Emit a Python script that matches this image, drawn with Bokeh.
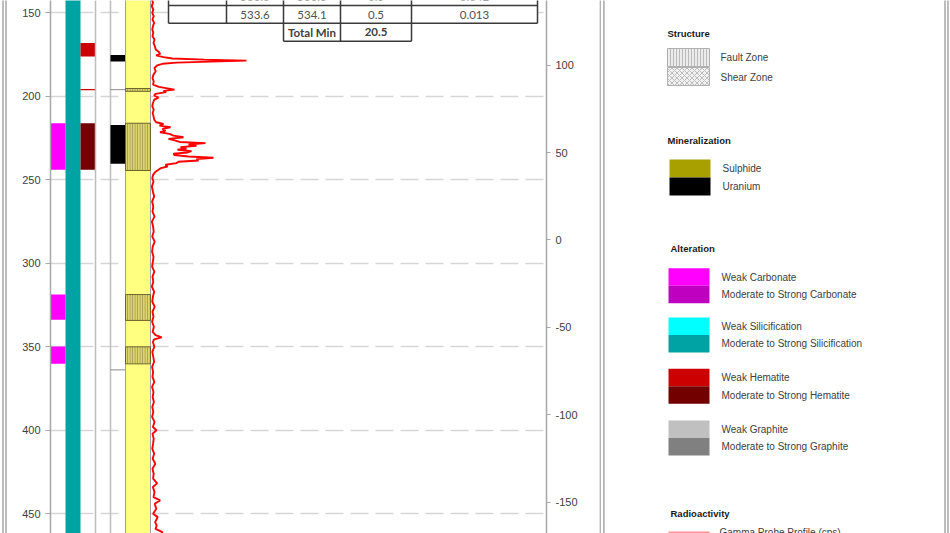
from bokeh.plotting import figure
from bokeh.layouts import row
from bokeh.models import Range1d, LinearAxis, FixedTicker, PrintfTickFormatter
from bokeh.core.properties import value
from bokeh.embed import file_html
from bokeh.resources import INLINE

# ------------------------------------------------------------------ data
DEPTH_TICKS = [150, 200, 250, 300, 350, 400, 450]
ELEV_TICKS = [100, 50, 0, -50, -100, -150]
DEPTH_VIEW = (142.6, 461.8)      # visible along-hole depth window (m)
ELEV_VIEW = (136.9, -167.8)      # matching elevation window (m)

HOLE_FROM = 100.0
HOLE_TO = 500.0

CARB_FROM = [216.1, 318.7, 349.8]
CARB_TO = [244.0, 333.8, 360.2]
CARB_CLASS = ["weak", "weak", "weak"]

SILIC_FROM = [HOLE_FROM]
SILIC_TO = [HOLE_TO]
SILIC_CLASS = ["strong"]

HEM_FROM = [168.0, 195.6, 216.1]
HEM_TO = [176.2, 196.4, 244.0]
HEM_CLASS = ["weak", "weak", "strong"]

URAN_FROM = [175.2, 217.1]
URAN_TO = [179.2, 240.4]

CONTACTS = [196.0, 363.8]

FAULT_FROM = [195.3, 216.1, 318.7, 350.0]
FAULT_TO = [197.0, 244.4, 334.2, 360.2]

GAMMA_DEPTH = [
    142, 144, 146, 148, 150, 152, 154, 156, 158, 160,
    162, 164, 166, 168, 170, 172, 173.5, 174.5, 175.5, 176.5,
    177.3, 178, 178.6, 179.2, 179.8, 180.5, 181.5, 183, 185, 187,
    189, 191, 193, 194.3, 195.2, 196, 196.7, 197.5, 198.5, 199.5,
    200.8, 202, 204, 206, 208, 210, 212, 214, 215.5, 216.5,
    217.5, 218.5, 219.5, 220.5, 221.5, 222.5, 223.5, 224.5, 225.5, 226.5,
    227.3, 228, 228.8, 229.6, 230.4, 231.2, 232, 232.8, 233.6, 234.4,
    235.2, 236, 236.8, 237.6, 238.4, 239.2, 240, 241, 242, 243,
    244, 245.5, 247, 249, 251, 254, 257, 260, 263, 266,
    269, 272, 275, 278, 281, 284, 287, 290, 293, 296,
    299, 302, 305, 308, 311, 314, 317, 320, 323, 326,
    329, 332, 335, 338, 341, 343, 344.3, 345.5, 347, 350,
    353, 356, 359, 362, 365, 368, 371, 374, 377, 380,
    383, 386, 389, 392, 395, 398, 400, 402, 405, 408,
    411, 414, 417, 420, 423, 426, 429, 431.8, 434, 437,
    440, 442, 444, 447, 450, 452, 455, 457, 459, 461,
    463,
]
GAMMA_CPS = [
    80, 120, 60, 140, 90, 160, 100, 180, 120, 90,
    140, 100, 200, 150, 220, 260, 420, 480, 280, 650,
    1100, 2700, 4800, 3000, 1300, 600, 330, 200, 260, 150,
    100, 160, 130, 420, 850, 1200, 650, 780, 250, 180,
    400, 190, 120, 90, 160, 110, 150, 190, 280, 650,
    450, 1000, 600, 750, 480, 950, 1150, 1650, 900, 1250,
    1450, 2750, 1900, 2300, 1500, 1800, 1350, 2050, 1850, 1150,
    1200, 1900, 3150, 2300, 2400, 1400, 1300, 750, 850, 520,
    400, 220, 130, 90, 150, 70, 120, 180, 80, 140,
    100, 200, 70, 130, 160, 90, 210, 110, 80, 150,
    120, 80, 190, 100, 140, 70, 180, 120, 90, 210,
    100, 150, 80, 170, 110, 250, 560, 180, 120, 190,
    90, 140, 180, 80, 130, 100, 190, 80, 150, 110,
    170, 90, 140, 80, 200, 120, 300, 100, 160, 130,
    90, 180, 110, 240, 100, 160, 130, 330, 120, 200,
    150, 480, 210, 290, 130, 360, 230, 310, 250, 600,
    420,
]

TABLE_PREV = ["", "533.0", "533.3", "0.3", "0.042"]
TABLE_ROW = ["", "533.6", "534.1", "0.5", "0.013"]
TOTAL_LABEL = "Total Min"
TOTAL_VALUE = "20.5"

STRUCT_LABELS = ["Fault Zone", "Shear Zone"]
MINERAL_LABELS = ["Sulphide", "Uranium"]
ALTER_LABELS = [
    "Weak Carbonate", "Moderate to Strong Carbonate",
    "Weak Silicification", "Moderate to Strong Silicification",
    "Weak Hematite", "Moderate to Strong Hematite",
    "Weak Graphite", "Moderate to Strong Graphite",
]
HEADERS = ["Structure", "Mineralization", "Alteration", "Radioactivity"]
GAMMA_LABEL = "Gamma Probe Profile (cps)"

# ------------------------------------------------------------------ styles
FONT = value("Liberation Sans")
TFONT = value("Lato")
ALT_COLORS = {
    "Carbonate": ("#FF00FF", "#C000C0"),
    "Silicification": ("#00FFFF", "#00A3A3"),
    "Hematite": ("#CC0000", "#720000"),
    "Graphite": ("#C0C0C0", "#808080"),
}
SULPHIDE = "#A8A000"
URANIUM = "#000000"
LITHO = "#FFFF80"
FRAME_GRAY = "#9A9A9A"


def alt_color(kind, cls):
    return ALT_COLORS[kind][0 if cls == "weak" else 1]


def bare(fig):
    for g in fig.grid:
        g.visible = False
    return fig


TRACK_PX = 15.0
FRAME_W = 496
TRACK_LEFT = [0, 1, 2, 3, 4, 5]
TRACK_RIGHT = [1, 2, 3, 4, 5, 5 + 25 / 15.0]

# ------------------------------------------------------------------ left edge strip
s = bare(figure(width=8, height=533, x_range=Range1d(0, 8), y_range=Range1d(533, 0),
                x_axis_location=None, y_axis_location=None,
                output_backend="svg", toolbar_location=None,
                min_border_left=0, min_border_right=0, min_border_top=0, min_border_bottom=0,
                outline_line_color=None,
                background_fill_color="white", border_fill_color="white"))
s.segment(x0=[2.5, 5.5], y0=[-10, -10], x1=[2.5, 5.5], y1=[545, 545],
          line_color=FRAME_GRAY, line_width=1.3)

# ------------------------------------------------------------------ log figure
p = figure(width=591, height=533,
           x_range=Range1d(0, FRAME_W / TRACK_PX),
           y_range=Range1d(DEPTH_VIEW[1], DEPTH_VIEW[0]),
           x_axis_location=None, y_axis_location="left",
           output_backend="svg", toolbar_location=None,
           min_border_left=42, min_border_right=53,
           min_border_top=0, min_border_bottom=0,
           outline_line_color=None,
           background_fill_color="white", border_fill_color="white")
p.extra_y_ranges = {"elev": Range1d(ELEV_VIEW[1], ELEV_VIEW[0]),
                    "px": Range1d(533, 0)}
p.extra_x_ranges = {"cps": Range1d(-100 * 50, 396 * 50),
                    "px": Range1d(50, 546)}

for g in p.xgrid:
    g.visible = False
yg = p.ygrid[0]
yg.ticker = FixedTicker(ticks=DEPTH_TICKS)
yg.grid_line_color = "#D6D6D6"
yg.grid_line_dash = "18 7"
yg.grid_line_width = 1.5


def style_axis(ax, ticks):
    ax.ticker = FixedTicker(ticks=ticks)
    ax.formatter = PrintfTickFormatter(format="%d")
    ax.axis_line_color = "#A8A8A8"
    ax.axis_line_width = 1.5
    ax.major_tick_line_color = "#A8A8A8"
    ax.major_tick_out = 5
    ax.major_tick_in = 0
    ax.minor_tick_line_color = None
    ax.major_label_standoff = 5
    ax.major_label_text_font = "Liberation Sans"
    ax.major_label_text_font_size = "11px"
    ax.major_label_text_color = "#404040"


style_axis(p.yaxis[0], DEPTH_TICKS)
rax = LinearAxis(y_range_name="elev")
style_axis(rax, ELEV_TICKS)
rax.major_tick_out = 4
p.add_layout(rax, "right")

# silicification (track 1)
p.quad(left=TRACK_LEFT[1], right=TRACK_RIGHT[1], top=SILIC_FROM, bottom=SILIC_TO,
       fill_color=[alt_color("Silicification", c) for c in SILIC_CLASS], line_color=None)
# carbonate (track 0)
p.quad(left=TRACK_LEFT[0], right=TRACK_RIGHT[0], top=CARB_FROM, bottom=CARB_TO,
       fill_color=[alt_color("Carbonate", c) for c in CARB_CLASS], line_color=None)
# hematite (track 2)
p.quad(left=TRACK_LEFT[2], right=TRACK_RIGHT[2], top=HEM_FROM, bottom=HEM_TO,
       fill_color=[alt_color("Hematite", c) for c in HEM_CLASS], line_color=None)
# graphite track borders
p.segment(x0=[TRACK_LEFT[3], TRACK_RIGHT[3]], y0=[HOLE_FROM] * 2,
          x1=[TRACK_LEFT[3], TRACK_RIGHT[3]], y1=[HOLE_TO] * 2,
          line_color="#BDBDBD", line_width=1.5)
# mineralization (track 4)
p.quad(left=TRACK_LEFT[4], right=TRACK_RIGHT[4], top=URAN_FROM, bottom=URAN_TO,
       fill_color=URANIUM, line_color=None)
p.segment(x0=TRACK_LEFT[4], y0=CONTACTS, x1=TRACK_RIGHT[4], y1=CONTACTS,
          line_color="#8A8A8A", line_width=1)
# lithology / structure (track 5)
p.quad(left=TRACK_LEFT[5], right=TRACK_RIGHT[5], top=[HOLE_FROM], bottom=[HOLE_TO],
       fill_color=LITHO, line_color="#A0A0A0", line_width=1)
p.quad(left=TRACK_LEFT[5], right=TRACK_RIGHT[5], top=FAULT_FROM, bottom=FAULT_TO,
       fill_color="#DDD470", hatch_pattern="|", hatch_color="#7A7340",
       hatch_scale=2.5, hatch_weight=0.6,
       line_color="#6B6530", line_width=1)

# gamma probe profile
p.line(x=GAMMA_CPS, y=GAMMA_DEPTH, x_range_name="cps",
       line_color="#FF0000", line_width=1.9)

# summary table overlay (drawn in the overlay 'px' ranges)
TBL_X = [168, 226, 283, 340, 411, 537]
ROW_Y = [5, 22.7, 40.7]
TLINE = dict(x_range_name="px", y_range_name="px", line_color="#3A3A3A", line_width=1.5)
p.quad(left=[TBL_X[0]], right=[TBL_X[-1]], top=[-5], bottom=[42],
       x_range_name="px", y_range_name="px", fill_color="white", line_color=None)
p.segment(x0=TBL_X, y0=-5, x1=TBL_X, y1=ROW_Y[1], **TLINE)
p.segment(x0=TBL_X[0], y0=ROW_Y[:2], x1=TBL_X[-1], y1=ROW_Y[:2], **TLINE)
p.segment(x0=TBL_X[2:5], y0=ROW_Y[1], x1=TBL_X[2:5], y1=ROW_Y[2], **TLINE)
p.segment(x0=[TBL_X[2]], y0=[ROW_Y[2]], x1=[TBL_X[4]], y1=[ROW_Y[2]], **TLINE)
cx = [(a + b) / 2 for a, b in zip(TBL_X[:-1], TBL_X[1:])]
p.text(x=cx, y=[-3.5] * 5, text=TABLE_PREV,
       x_range_name="px", y_range_name="px", text_font=TFONT, text_font_size="11.5px",
       text_color="#505050", text_align="center", text_baseline="middle")
p.text(x=cx, y=[(ROW_Y[0] + ROW_Y[1]) / 2 + 0.5] * 5, text=TABLE_ROW,
       x_range_name="px", y_range_name="px", text_font=TFONT, text_font_size="11.5px",
       text_color="#505050", text_align="center", text_baseline="middle")
p.text(x=cx[2:4], y=[(ROW_Y[1] + ROW_Y[2]) / 2] * 2, text=[TOTAL_LABEL, TOTAL_VALUE],
       x_range_name="px", y_range_name="px", text_font=TFONT, text_font_size="11.5px",
       text_font_style="bold", text_color="#404040",
       text_align="center", text_baseline="middle")

# ------------------------------------------------------------------ legend panel
q = bare(figure(width=351, height=533, x_range=Range1d(599, 950), y_range=Range1d(533, 0),
                x_axis_location=None, y_axis_location=None,
                output_backend="svg", toolbar_location=None,
                min_border_left=0, min_border_right=0, min_border_top=0, min_border_bottom=0,
                outline_line_color=None,
                background_fill_color="white", border_fill_color="white"))

q.segment(x0=[599.6, 603.4, 944.5, 947.5], y0=-10, x1=[599.6, 603.4, 944.5, 947.5], y1=545,
          line_color=FRAME_GRAY, line_width=1.3)

HEADER_X = [667, 667, 670, 670]
HEADER_Y = [33, 140, 248, 513]
q.text(x=HEADER_X, y=HEADER_Y, text=HEADERS, text_font=FONT, text_font_size="9.5px",
       text_font_style="bold", text_color="#1A1A1A", text_baseline="middle")

# structure swatches
q.quad(left=[667, 667], right=[709, 709], top=[48, 67], bottom=[66, 85],
       fill_color=["#EBEBEB", "#F0F0F0"], hatch_pattern=["|", "x"],
       hatch_color="#9A9A9A", hatch_scale=[3, 5], hatch_weight=0.6,
       line_color="#B0B0B0", line_width=1)
q.text(x=[720, 720], y=[57, 77], text=STRUCT_LABELS, text_font=FONT,
       text_font_size="10px", text_color="#404040", text_baseline="middle")

# mineralization swatches
q.quad(left=[669, 669], right=[710, 710], top=[159, 177], bottom=[177, 195],
       fill_color=[SULPHIDE, URANIUM], line_color=None)
q.text(x=[722, 722], y=[168, 186], text=MINERAL_LABELS, text_font=FONT,
       text_font_size="10px", text_color="#404040", text_baseline="middle")

# alteration swatches
alt_kinds = ["Carbonate", "Silicification", "Hematite", "Graphite"]
alt_fill, alt_top, alt_bot, alt_ty = [], [], [], []
group_tops = [267.7, 317.0, 368.3, 420.0]
for kind, gt in zip(alt_kinds, group_tops):
    for k, cls in enumerate(["weak", "strong"]):
        alt_fill.append(alt_color(kind, cls))
        alt_top.append(gt + 17.5 * k)
        alt_bot.append(gt + 17.5 * (k + 1))
        alt_ty.append(gt + 9 + 17.2 * k)
q.quad(left=668, right=709, top=alt_top, bottom=alt_bot, fill_color=alt_fill, line_color=None)
q.text(x=721, y=alt_ty, text=ALTER_LABELS, text_font=FONT,
       text_font_size="10px", text_color="#404040", text_baseline="middle")

# radioactivity (cut by the page edge as in the source)
q.segment(x0=[668], y0=[532], x1=[709], y1=[532], line_color="#FF9090", line_width=2)
q.text(x=[719], y=[526], text=[GAMMA_LABEL], text_font=FONT,
       text_font_size="10px", text_color="#404040", text_baseline="top")

layout = row(s, p, q, spacing=0)
open("out.html", "w").write(file_html(layout, INLINE))
